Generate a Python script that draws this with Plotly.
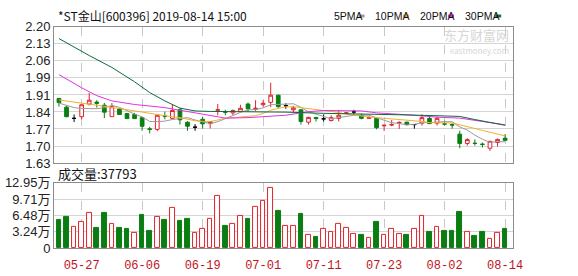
import plotly.graph_objects as go
import pandas as pd

# ---------------- data ----------------
opens = [1.900, 1.864, 1.817, 1.824, 1.877, 1.885, 1.872, 1.824, 1.857, 1.837,
         1.833, 1.820, 1.773, 1.771, 1.827, 1.817, 1.853, 1.801, 1.780, 1.813,
         1.795, 1.851, 1.845, 1.840, 1.846, 1.877, 1.855, 1.874, 1.884, 1.914,
         1.870, 1.853, 1.853, 1.801, 1.821, 1.815, 1.808, 1.817, 1.838, 1.844,
         1.830, 1.817, 1.817, 1.786, 1.789, 1.797, 1.801, 1.791, 1.797, 1.817,
         1.797, 1.794, 1.791, 1.751, 1.712, 1.713, 1.709, 1.692, 1.716, 1.734]
highs = [1.903, 1.870, 1.833, 1.874, 1.923, 1.893, 1.882, 1.881, 1.860, 1.840,
         1.840, 1.824, 1.782, 1.833, 1.845, 1.876, 1.861, 1.805, 1.793, 1.824,
         1.806, 1.877, 1.853, 1.854, 1.874, 1.883, 1.893, 1.893, 1.966, 1.916,
         1.880, 1.870, 1.853, 1.824, 1.822, 1.834, 1.830, 1.850, 1.843, 1.853,
         1.837, 1.826, 1.820, 1.791, 1.810, 1.804, 1.803, 1.791, 1.834, 1.824,
         1.824, 1.807, 1.797, 1.765, 1.734, 1.729, 1.716, 1.723, 1.732, 1.751]
lows = [1.866, 1.822, 1.802, 1.813, 1.871, 1.862, 1.818, 1.824, 1.831, 1.816,
        1.814, 1.765, 1.754, 1.763, 1.813, 1.815, 1.791, 1.765, 1.765, 1.774,
        1.775, 1.830, 1.830, 1.830, 1.843, 1.844, 1.848, 1.866, 1.864, 1.861,
        1.857, 1.843, 1.791, 1.791, 1.804, 1.804, 1.804, 1.804, 1.835, 1.834,
        1.813, 1.815, 1.771, 1.764, 1.784, 1.773, 1.787, 1.774, 1.787, 1.793,
        1.787, 1.787, 1.774, 1.692, 1.703, 1.703, 1.695, 1.681, 1.699, 1.724]
closes = [1.883, 1.824, 1.817, 1.874, 1.893, 1.880, 1.843, 1.866, 1.833, 1.816,
          1.816, 1.784, 1.771, 1.830, 1.826, 1.850, 1.811, 1.784, 1.780, 1.794,
          1.804, 1.853, 1.843, 1.850, 1.859, 1.857, 1.859, 1.880, 1.914, 1.866,
          1.870, 1.861, 1.804, 1.821, 1.816, 1.815, 1.820, 1.830, 1.840, 1.844,
          1.817, 1.820, 1.778, 1.788, 1.791, 1.800, 1.791, 1.791, 1.820, 1.795,
          1.817, 1.793, 1.789, 1.712, 1.728, 1.712, 1.708, 1.721, 1.729, 1.725]
# volume in units of 万 (10,000 shares)
volumes = [5.63, 6.20, 4.26, 5.19, 7.07, 3.94, 6.95, 4.82, 3.94, 3.75,
           2.94, 6.57, 3.38, 6.20, 5.63, 8.01, 5.44, 5.82, 2.94, 3.88,
           5.82, 10.45, 4.50, 4.82, 6.50, 5.82, 8.20, 9.39, 11.95, 7.32,
           4.44, 4.44, 6.76, 2.57, 2.25, 3.88, 3.32, 4.82, 4.07, 2.75,
           2.57, 2.00, 5.26, 2.57, 3.88, 2.75, 2.57, 3.88, 6.32, 3.13,
           4.13, 3.38, 3.38, 7.13, 3.13, 2.44, 3.13, 1.81, 2.94, 3.7793]
vol_up = "ggrrrggrggrggrgrggrrrrgrrgrrrgrrgrgrrrrrgrgrrrgrrgrgggrggrrg"

# moving averages (head values before the window is full)
ma5_head = [1.881, 1.872, 1.862, 1.858]
ma10_head = [1.894, 1.890, 1.886, 1.881, 1.878, 1.874, 1.869, 1.863, 1.858]
ma20_idx = [0, 3, 5, 7, 10, 14, 18, 20, 22, 25, 30, 33, 35, 40, 42, 47, 50, 53, 56, 59]
ma20_val = [2.000, 1.945, 1.912, 1.890, 1.875, 1.862, 1.840, 1.828, 1.818, 1.820,
            1.830, 1.845, 1.850, 1.848, 1.840, 1.830, 1.822, 1.818, 1.805, 1.790]
ma30_idx = [0, 2, 4, 7, 10, 12, 14, 16, 18, 20, 25, 30, 35, 40, 45, 50, 53, 55, 57, 59]
ma30_val = [2.151, 2.115, 2.080, 2.030, 1.970, 1.925, 1.890, 1.860, 1.848, 1.846,
            1.845, 1.843, 1.838, 1.836, 1.832, 1.828, 1.825, 1.812, 1.800, 1.788]

tick_idx = [3, 11, 19, 27, 35, 43, 51, 59]
tick_labels = ["05-27", "06-06", "06-19", "07-01", "07-11", "07-23", "08-02", "08-14"]
price_ticks = ["1.63", "1.70", "1.77", "1.84", "1.91", "1.99", "2.06", "2.13", "2.20"]
vol_ticks = ["0", "3.24万", "6.48万", "9.71万", "12.95万"]
legend_names = ["5PMA", "10PMA", "20PMA", "30PMA"]

# ---------------- styling ----------------
RED = "#e0232b"
GREEN = "#0a7d12"
C5, C10, C20, C30 = "#9a9a9a", "#f0b030", "#e033e0", "#0d6b3a"
W, H = 578, 276

n = len(closes)
x = list(range(n))
cs = pd.Series(closes)
ma5 = ma5_head + list(cs.rolling(5).mean().iloc[4:])
ma10 = ma10_head + list(cs.rolling(10).mean().iloc[9:])

fig = go.Figure()

def cand(sel, color, fill):
    fig.add_trace(go.Candlestick(
        x=[x[i] for i in sel], open=[opens[i] for i in sel], high=[highs[i] for i in sel],
        low=[lows[i] for i in sel], close=[closes[i] for i in sel],
        increasing=dict(line=dict(color=color, width=1), fillcolor=fill),
        decreasing=dict(line=dict(color=color, width=1), fillcolor=fill),
        whiskerwidth=0, xaxis="x", yaxis="y", showlegend=False, hoverinfo="skip"))

up = [i for i in x if closes[i] > opens[i]]
dn = [i for i in x if closes[i] < opens[i]]
eq = [i for i in x if closes[i] == opens[i]]
cand(up, RED, "white")
cand(dn, GREEN, GREEN)
cand(eq, "#000000", "#000000")

for xs, ys, c in [(x, ma5, C5), (x, ma10, C10), (ma20_idx, ma20_val, C20), (ma30_idx, ma30_val, C30)]:
    fig.add_trace(go.Scatter(x=xs, y=ys, mode="lines", line=dict(color=c, width=1),
                             xaxis="x", yaxis="y", showlegend=False, hoverinfo="skip"))

vcol = [RED if c == "r" else GREEN for c in vol_up]
vfill = ["white" if c == "r" else GREEN for c in vol_up]
fig.add_trace(go.Bar(x=x, y=[v * 10000 for v in volumes], width=0.62,
                     marker=dict(color=vfill, line=dict(color=vcol, width=1)),
                     xaxis="x2", yaxis="y2", showlegend=False, hoverinfo="skip"))

xr = [-0.65, 60.04]
xd = [55 / W, 522 / W]
axcommon = dict(range=xr, domain=xd, tickvals=tick_idx, showgrid=True, gridcolor="#c8c8c8",
                griddash="dash", gridwidth=1, showline=True, linecolor="#8c8c8c", mirror=True,
                zeroline=False, fixedrange=True)
fig.update_layout(
    width=W, height=H, margin=dict(l=0, r=0, t=0, b=0),
    paper_bgcolor="white", plot_bgcolor="white",
    font=dict(family="Noto Sans CJK SC, DejaVu Sans", size=12, color="#222"),
    xaxis=dict(**axcommon, ticks="", showticklabels=False, rangeslider=dict(visible=False), anchor="y"),
    xaxis2=dict(**axcommon, ticktext=tick_labels, anchor="y2", ticks="outside", ticklen=5,
                tickcolor="rgba(0,0,0,0)",
                tickfont=dict(color="#c0141c", size=12, family="Liberation Mono, DejaVu Sans Mono")),
    yaxis=dict(domain=[(H - 165) / H, (H - 21) / H], range=[1.63, 2.20],
               tickvals=[1.63 + k * 0.07125 for k in range(9)], ticktext=price_ticks,
               showgrid=True, gridcolor="#d4d4d4", showline=True, linecolor="#8c8c8c",
               mirror=True, zeroline=False, ticks="", anchor="x",
               tickfont=dict(size=13, family="Liberation Sans", color="#222")),
    yaxis2=dict(domain=[(H - 255) / H, (H - 186) / H], range=[0, 129500],
                tickvals=[k * 32375 for k in range(5)], ticktext=vol_ticks,
                showgrid=True, gridcolor="#d4d4d4", showline=True, linecolor="#8c8c8c",
                mirror=True, zeroline=False, ticks="", anchor="x2",
                tickfont=dict(size=13, family="Liberation Sans, Noto Sans CJK SC", color="#222")),
    bargap=0,
)

ann = [
    dict(x=57, y=9, text="*ST金山[600396] 2019-08-14 15:00", xanchor="left", size=12),
    dict(x=57, y=176, text="成交量:37793", xanchor="left", size=13),
]
for a in ann:
    fig.add_annotation(x=a["x"] / W, y=1 - a["y"] / H, xref="paper", yref="paper",
                       text=a["text"], showarrow=False, xanchor=a["xanchor"], yanchor="middle",
                       font=dict(size=a["size"], color="#111"))

# legend: names with a short coloured dash after each
leg_x = [338, 380, 425, 471]
leg_dash = [365, 410, 456, 504]
for name, c, lx, dx in zip(legend_names, [C5, C10, C20, C30], leg_x, leg_dash):
    fig.add_annotation(x=lx / W, y=1 - 9 / H, xref="paper", yref="paper", text=name,
                       showarrow=False, xanchor="left", yanchor="middle",
                       font=dict(size=10.5, color="#111", family="Liberation Sans"))
    fig.add_shape(type="rect", xref="paper", yref="paper", x0=dx / W, x1=(dx + 6) / W,
                  y0=1 - 11 / H, y1=1 - 8 / H, fillcolor=c, line=dict(width=0))

fig.add_annotation(x=520 / W, y=1 - 29 / H, xref="paper", yref="paper", text="东方财富网",
                   showarrow=False, xanchor="right", yanchor="middle",
                   font=dict(size=13, color="#d6d6d6"))
fig.add_annotation(x=520 / W, y=1 - 46 / H, xref="paper", yref="paper", text="eastmoney.com",
                   showarrow=False, xanchor="right", yanchor="middle",
                   font=dict(size=8, color="#d6d6d6"))

fig.write_html("out.html")
